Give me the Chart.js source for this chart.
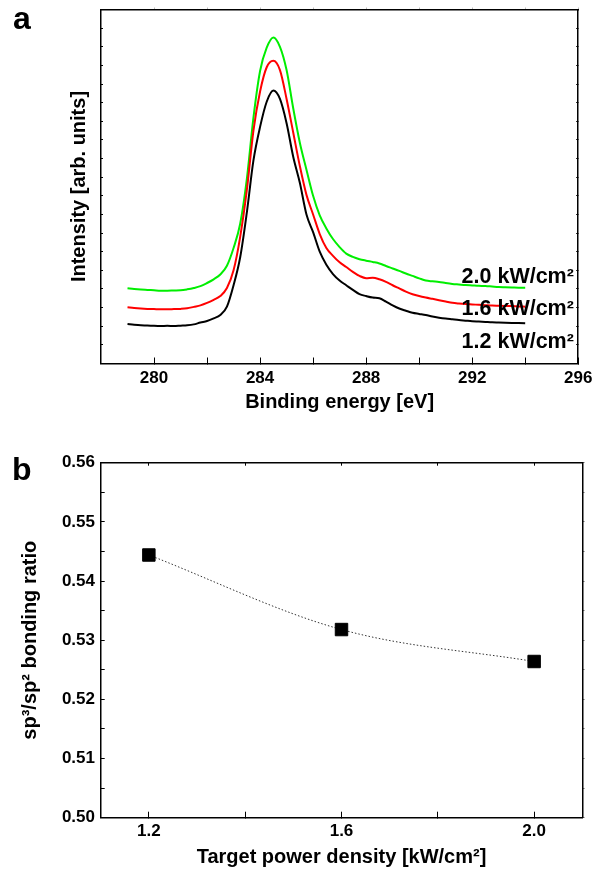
<!DOCTYPE html>
<html><head><meta charset="utf-8">
<script src="https://cdn.jsdelivr.net/npm/chart.js@4/dist/chart.umd.min.js"></script>
<style>
html,body{margin:0;padding:0;background:#fff;}
body{width:603px;height:872px;position:relative;overflow:hidden;font-family:"Liberation Sans",Arial,sans-serif;}
.wrap{position:absolute;left:0;width:603px;}
#wa{top:0;height:430px;}
#wb{top:430px;height:442px;}
.panel{position:absolute;z-index:3;font-weight:bold;font-size:32px;line-height:32px;color:#000;}
</style></head><body>
<div class="panel" style="left:13px;top:2px;">a</div>
<div class="panel" style="left:12px;top:453px;">b</div>
<div class="wrap" id="wa"><canvas id="ca"></canvas></div>
<div class="wrap" id="wb"><canvas id="cb"></canvas></div>
<script>
// ---------- Panel a : XPS C1s spectra ----------
const energy = [279.00,279.25,279.50,279.75,280.00,280.25,280.50,280.75,281.00,281.25,281.50,281.75,
  282.00,282.25,282.50,282.75,283.00,283.25,283.50,283.75,284.00,284.25,284.50,284.75,
  285.00,285.25,285.50,285.75,286.00,286.25,286.50,286.75,287.00,287.25,287.50,287.75,
  288.00,288.25,288.50,288.75,289.00,289.25,289.50,289.75,290.00,290.25,290.50,290.75,
  291.00,291.25,291.50,291.75,292.00,292.25,292.50,292.75,293.00,293.25,293.50,293.75,294.00];
const int12 = [2.12,2.08,2.05,2.04,2.02,2.01,2.02,2.01,2.03,2.05,2.10,2.20,
  2.28,2.42,2.60,3.05,4.20,5.70,8.10,10.90,12.70,14.05,14.65,14.20,
  12.90,11.10,9.70,8.00,7.05,6.00,5.30,4.80,4.45,4.20,3.95,3.72,
  3.62,3.54,3.50,3.32,3.12,2.95,2.83,2.72,2.66,2.60,2.52,2.46,
  2.41,2.37,2.33,2.30,2.27,2.25,2.23,2.21,2.20,2.19,2.18,2.17,2.16];
const int16 = [3.02,2.98,2.95,2.93,2.92,2.91,2.91,2.92,2.93,2.96,3.04,3.12,
  3.25,3.42,3.62,4.05,5.00,6.80,9.30,12.50,14.60,15.90,16.25,15.75,
  14.20,12.40,10.60,9.05,8.00,6.95,6.20,5.78,5.43,5.18,4.92,4.70,
  4.58,4.60,4.52,4.38,4.20,4.03,3.86,3.72,3.62,3.54,3.47,3.40,
  3.33,3.26,3.22,3.19,3.17,3.15,3.13,3.11,3.10,3.09,3.08,3.06,3.05];
const int20 = [4.04,4.00,3.97,3.95,3.93,3.91,3.91,3.92,3.93,3.98,4.05,4.15,
  4.32,4.52,4.78,5.25,6.20,7.50,9.90,13.20,15.70,16.95,17.50,17.00,
  15.75,13.70,11.85,10.40,9.00,7.95,7.25,6.68,6.25,5.90,5.72,5.60,
  5.52,5.45,5.37,5.23,5.10,4.97,4.83,4.70,4.57,4.45,4.41,4.38,
  4.32,4.27,4.24,4.21,4.19,4.17,4.16,4.13,4.10,4.09,4.08,4.07,4.07];
const seriesLabelsA = ['1.2 kW/cm²','1.6 kW/cm²','2.0 kW/cm²'];
const xTicksA = [280,282,284,286,288,290,292,294,296];
const xLabelsA = [280,284,288,292,296];
const yTicksA = [0,1,2,3,4,5,6,7,8,9,10,11,12,13,14,15,16,17,18,19];

// ---------- Panel b : sp3/sp2 ratio ----------
const density = [1.2, 1.6, 2.0];
const ratio = [0.5444, 0.5318, 0.5264];
const xTicksB = [1.2,1.4,1.6,1.8,2.0];
const xLabelsB = [1.2,1.6,2.0];
const yTicksB = [0.500,0.505,0.510,0.515,0.520,0.525,0.530,0.535,0.540,0.545,0.550,0.555,0.560];
const yLabelsB = [0.50,0.51,0.52,0.53,0.54,0.55,0.56];

const FONT = '"Liberation Sans", Arial, Helvetica, sans-serif';
Chart.defaults.font.family = FONT;
Chart.defaults.font.weight = 'bold';
Chart.defaults.color = '#000';

const has = (arr, v) => arr.some(a => Math.abs(a - v) < 1e-6);
const setTicks = arr => (s => { s.ticks = arr.map(v => ({value: v})); });

function axis(opts) {
  return Object.assign({
    type: 'linear', display: true,
    grid: {drawOnChartArea: false, color: '#000', lineWidth: 1, tickLength: -5},
    border: {display: true, color: '#000', width: 1.5},
  }, opts);
}

// ---- chart a ----
const annotA = [
  {text: seriesLabelsA[2], x: 291.6, y: 4.34},
  {text: seriesLabelsA[1], x: 291.6, y: 2.60},
  {text: seriesLabelsA[0], x: 291.6, y: 0.82}
];
const labelPlugin = {
  id: 'seriesText',
  afterDatasetsDraw(chart) {
    const ctx = chart.ctx, xs = chart.scales.x, ys = chart.scales.y;
    ctx.save();
    ctx.font = 'bold 21.5px ' + FONT;
    ctx.fillStyle = '#000';
    ctx.textAlign = 'left';
    ctx.textBaseline = 'alphabetic';
    annotA.forEach(a => ctx.fillText(a.text, xs.getPixelForValue(a.x), ys.getPixelForValue(a.y)));
    ctx.restore();
  }
};
const mk = ys => energy.map((e, i) => ({x: e, y: ys[i]}));
new Chart(document.getElementById('ca'), {
  type: 'scatter',
  data: {datasets: [
    {label: seriesLabelsA[0], data: mk(int12), borderColor: '#000000', borderWidth: 2, showLine: true, pointRadius: 0, cubicInterpolationMode: 'monotone'},
    {label: seriesLabelsA[1], data: mk(int16), borderColor: '#ff0000', borderWidth: 2, showLine: true, pointRadius: 0, cubicInterpolationMode: 'monotone'},
    {label: seriesLabelsA[2], data: mk(int20), borderColor: '#00ee00', borderWidth: 2, showLine: true, pointRadius: 0, cubicInterpolationMode: 'monotone'}
  ]},
  options: {
    responsive: true, maintainAspectRatio: false, animation: false, devicePixelRatio: 1,
    layout: {padding: {top: 9.5, right: 21.3, left: 0, bottom: 0}},
    plugins: {legend: {display: false}, tooltip: {enabled: false}},
    scales: {
      x: axis({position: 'bottom', min: 278, max: 296,
        afterBuildTicks: setTicks(xTicksA),
        afterFit: s => { s.height = 66.5; },
        grid: {drawOnChartArea: false, color: '#000', lineWidth: 1, tickLength: -6},
        ticks: {autoSkip: false, maxRotation: 0, padding: 10.6, font: {size: 17, weight: 'bold'},
          callback: v => has(xLabelsA, v) ? String(v) : ''},
        title: {display: true, text: 'Binding energy [eV]', font: {size: 20, weight: 'bold'}, padding: {top: 0, bottom: 15.6}}}),
      x2: axis({position: 'top', min: 278, max: 296,
        afterBuildTicks: setTicks(xTicksA),
        afterFit: s => { s.height = 0; },
        grid: {drawOnChartArea: false, color: '#bbbbbb', lineWidth: 1, tickLength: 2},
        ticks: {display: false}}),
      y: axis({position: 'left', min: 0, max: 19,
        afterBuildTicks: setTicks(yTicksA),
        afterFit: s => { s.width = 101; },
        grid: {drawOnChartArea: false, color: '#000', lineWidth: 1, tickLength: -2},
        ticks: {display: false},
        title: {display: true, text: 'Intensity [arb. units]', font: {size: 20, weight: 'bold'}, padding: {top: 67.5, bottom: 0}}}),
      y2: axis({position: 'right', min: 0, max: 19,
        afterBuildTicks: setTicks(yTicksA),
        afterFit: s => { s.width = 0; },
        grid: {drawOnChartArea: false, color: '#000', lineWidth: 1, tickLength: -2},
        ticks: {display: false}})
    }
  },
  plugins: [labelPlugin]
});

// ---- chart b ----
const pts = density.map((d, i) => ({x: d, y: ratio[i]}));
new Chart(document.getElementById('cb'), {
  type: 'scatter',
  data: {datasets: [
    {label: 'fit', data: pts, showLine: true, pointRadius: 0, borderColor: '#333333', borderWidth: 1,
      borderDash: [1.5, 2], cubicInterpolationMode: 'monotone', order: 2},
    {label: 'sp3/sp2', data: pts, showLine: false, pointStyle: 'rect', pointRadius: 8.8,
      backgroundColor: '#000', borderColor: '#000', borderWidth: 1, order: 1}
  ]},
  options: {
    responsive: true, maintainAspectRatio: false, animation: false, devicePixelRatio: 1,
    layout: {padding: {top: 32.7, right: 20.7, left: 0, bottom: 0}},
    plugins: {legend: {display: false}, tooltip: {enabled: false}},
    scales: {
      x: axis({position: 'bottom', min: 1.1, max: 2.1,
        afterBuildTicks: setTicks(xTicksB),
        afterFit: s => { s.height = 54.3; },
        grid: {drawOnChartArea: false, color: '#000', lineWidth: 1, tickLength: -6},
        ticks: {autoSkip: false, maxRotation: 0, padding: 9.1, font: {size: 17, weight: 'bold'},
          callback: v => has(xLabelsB, v) ? v.toFixed(1) : ''},
        title: {display: true, text: 'Target power density [kW/cm²]', font: {size: 20, weight: 'bold'}, padding: {top: 0, bottom: 3}}}),
      x2: axis({position: 'top', min: 1.1, max: 2.1,
        afterBuildTicks: setTicks(xTicksB),
        afterFit: s => { s.height = 0; },
        grid: {drawOnChartArea: false, color: '#000', lineWidth: 1, tickLength: -3},
        ticks: {display: false}}),
      y: axis({position: 'left', min: 0.50, max: 0.56,
        afterBuildTicks: setTicks(yTicksB),
        afterFit: s => { s.width = 100.7; },
        grid: {drawOnChartArea: false, color: '#000', lineWidth: 1, tickLength: -4},
        ticks: {autoSkip: false, padding: 9.7, font: {size: 17, weight: 'bold'},
          callback: v => has(yLabelsB, v) ? v.toFixed(2) : ''},
        title: {display: true, text: 'sp³/sp² bonding ratio', font: {size: 20, weight: 'bold'}, padding: {top: 18, bottom: 0}}}),
      y2: axis({position: 'right', min: 0.50, max: 0.56,
        afterBuildTicks: setTicks(yTicksB),
        afterFit: s => { s.width = 0; },
        grid: {drawOnChartArea: false, color: '#000', lineWidth: 1, tickLength: 2},
        ticks: {display: false}})
    }
  }
});
</script>
</body></html>
